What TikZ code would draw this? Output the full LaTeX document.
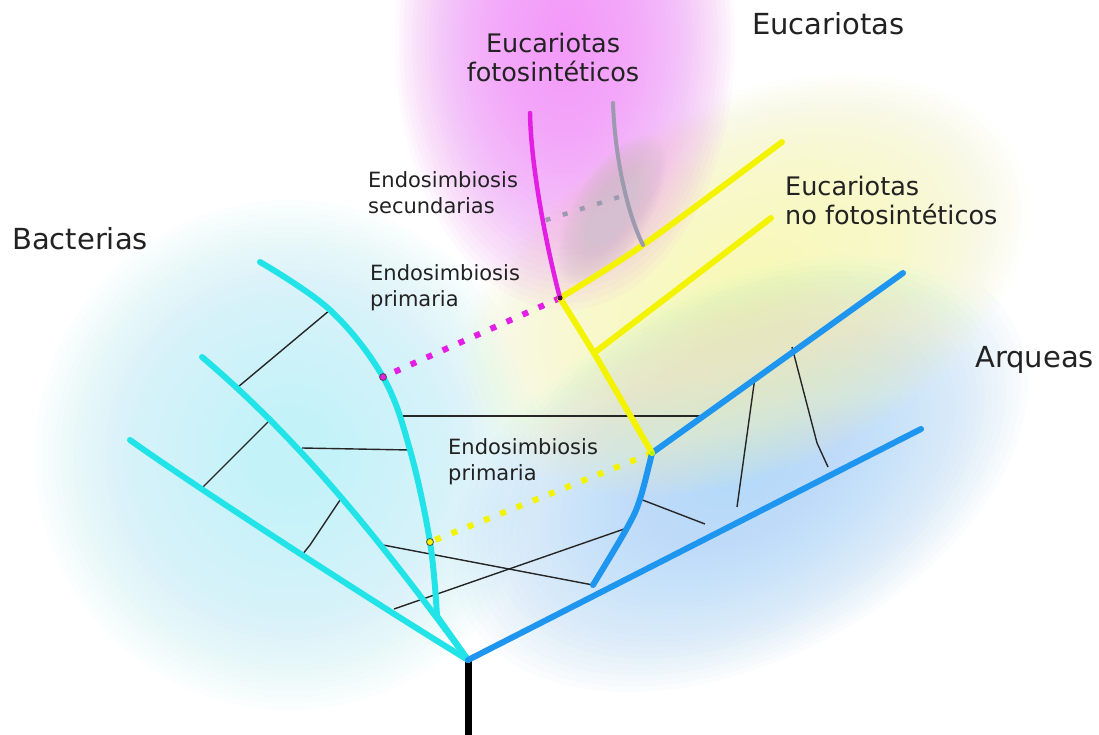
\documentclass[tikz,border=0pt]{standalone}
\usepackage{fontspec}
\setmainfont{DejaVu Sans}
\usepackage{xcolor}
\definecolor{baccol}{HTML}{22E4E8}
\definecolor{arqcol}{HTML}{1E96F0}
\definecolor{eukcol}{HTML}{F4F400}
\definecolor{fotocol}{HTML}{E41FE4}
\definecolor{seccol}{HTML}{9C9AAE}
\definecolor{labelcol}{HTML}{222222}
\definecolor{bacglow}{HTML}{C4F2F9}
\definecolor{arqglow}{HTML}{B5DAF9}
\definecolor{eukglow}{HTML}{F8F8BA}
\definecolor{fotoglow}{HTML}{F396F9}
\definecolor{secglow}{HTML}{D6BFD0}
\usepackage{tikz}

% soft blob made of stacked faint ellipses
\newcommand{\glowblob}[5]{%
  \foreach \k in {1,...,40}
    \fill[#1, fill opacity=0.055, rotate around={#5:#2}]
      #2 ellipse [x radius={\k*#3/40}, y radius={\k*#4/40}];}

\begin{document}
\begin{tikzpicture}[
  x=1pt, y=-1pt,
  bac/.style={line width=6pt, draw=baccol, line cap=round, line join=round},
  arq/.style={line width=6pt, draw=arqcol, line cap=round, line join=round},
  euk/.style={line width=6pt, draw=eukcol, line cap=round, line join=round},
  foto/.style={line width=4.5pt, draw=fotocol, line cap=round},
  sec/.style={line width=4pt, draw=seccol, line cap=round},
  hgt/.style={line width=1.4pt, draw=black!85},
  endo/.style={line width=6pt, dash pattern=on 6pt off 11.5pt},
  jdot/.style={circle, inner sep=0pt, minimum size=7pt, draw=black!70, line width=0.8pt},
  title/.style={font=\fontsize{29}{33}\selectfont, text=labelcol, inner sep=0pt, anchor=base west},
  sub/.style={font=\fontsize{25.5}{29}\selectfont, text=labelcol, inner sep=0pt},
  endolbl/.style={font=\fontsize{21}{26.5}\selectfont, text=labelcol, inner sep=0pt,
                  align=left, anchor=north west},
]
\useasboundingbox[fill=white] (0,0) rectangle (1099,735);

%% Glows behind the groups
\glowblob{bacglow}{(290,455)}{255}{255}{0}
\glowblob{arqglow}{(740,470)}{310}{190}{28}
\glowblob{eukglow}{(745,285)}{300}{185}{25}
\glowblob{fotoglow}{(565,40)}{170}{270}{0}
\glowblob{secglow}{(612,210)}{85}{38}{59}

%% Points of the tree
\coordinate (base)  at (468,735);
\coordinate (root)  at (468,660);
\coordinate (cMerge) at (437,616);
% Bacterias
\coordinate (bTip1) at (260,262);
\coordinate (bTip2) at (202,357);
\coordinate (bTip3) at (130,440);
\coordinate (m1) at (330,310);
\coordinate (m2) at (383,377);
\coordinate (m3) at (398,416);
\coordinate (m4) at (410,450);
\coordinate (m5) at (430,542);
\coordinate (d1) at (238,387);
\coordinate (d2) at (272,418);
\coordinate (d3) at (302,448);
\coordinate (d4) at (342,497);
\coordinate (d5) at (383,545);
\coordinate (l1) at (200,490);
\coordinate (l2) at (302,555);
\coordinate (l2k) at (310,545);
\coordinate (l3) at (394,609);
% Arqueas
\coordinate (a1) at (593,585);
\coordinate (a2) at (705,524);
\coordinate (a3) at (737,507);
\coordinate (a4) at (828,467);
\coordinate (a4k) at (817,443);
\coordinate (aTip1) at (921,429);
\coordinate (i1) at (627,528);
\coordinate (i2) at (640,499);
\coordinate (aJ) at (652,453);
\coordinate (u1) at (703,416);
\coordinate (u2) at (755,377);
\coordinate (u3) at (792,347);
\coordinate (aTip2) at (903,273);
% Eucariotas
\coordinate (y1) at (594,353);
\coordinate (y2) at (560,298);
\coordinate (y3) at (643,245);
\coordinate (eTip1) at (782,142);
\coordinate (eTip2) at (771,218);
\coordinate (fTip) at (530,113);
\coordinate (sTip) at (613,103);
\coordinate (g1) at (619,197);
\coordinate (p1) at (543,221);

%% Transfer lines
\draw[hgt] (m1) -- (d1);
\draw[hgt] (d2) -- (l1);
\draw[hgt] (d3) -- (m4);
\draw[hgt] (m3) -- (u1);
\draw[hgt] (l2) -- (l2k) -- (d4);
\draw[hgt] (d5) -- (a1);
\draw[hgt] (l3) -- (i1);
\draw[hgt] (u2) -- (a3);
\draw[hgt] (u3) -- (a4k) -- (a4);
\draw[hgt] (i2) -- (a2);

%% Endosimbiosis
\draw[endo, fotocol] (y2) -- (m2);
\draw[endo, eukcol] (aJ) -- (m5);
\draw[endo, seccol, line width=4.5pt, dash pattern=on 5pt off 13pt] (g1) -- (p1);

%% Branches
\draw[line width=7pt] (root) -- (base);
\draw[bac] (root) .. controls +(-90,-55) and +(70,50) .. (bTip3);
\draw[bac] (root) .. controls +(-88,-120) and +(98,83) .. (bTip2);
\draw[bac] (root) -- plot[smooth, tension=0.6] coordinates {(cMerge) (m5) (m4) (m2) (m1) (bTip1)};
\draw[arq] (root) -- (aTip1);
\draw[arq] plot[smooth, tension=0.6] coordinates {(a1) (i1) (i2) (aJ)} -- (aTip2);
\draw[euk] (aJ) -- (y1) -- (y2);
\draw[euk] plot[smooth] coordinates {(y2) (y3) (eTip1)};
\draw[euk] (y1) -- (eTip2);
\draw[foto] (y2) .. controls +(-12,-45) and +(1,57) .. (fTip);
\draw[sec] (y3) .. controls +(-15,-30) and +(2,57) .. (sTip);

\node[jdot, fill=fotocol] (dotFoto) at (m2) {};
\node[jdot, fill=eukcol] (dotEuk) at (m5) {};
\node[circle, inner sep=0pt, minimum size=5pt, fill=black!70!fotocol] (dotY2) at (y2) {};
\node[circle, inner sep=0pt, minimum size=4pt, fill=eukcol!70!green] (dotAJ) at (aJ) {};

%% Labels
\node[title] (lblBac) at (12,249) {Bacterias};
\node[title] (lblEuk) at (752,35) {Eucariotas};
\node[title] (lblArq) at (975,367) {Arqueas};
\node[sub, align=center, anchor=north] (lblFoto) at (553,33) {Eucariotas\\fotosintéticos};
\node[sub, align=left, anchor=north west] (lblNoFoto) at (785,176) {Eucariotas\\no fotosintéticos};
\node[endolbl] (lblSec) at (368,171) {Endosimbiosis\\secundarias};
\node[endolbl] (lblPrim1) at (370,264) {Endosimbiosis\\primaria};
\node[endolbl] (lblPrim2) at (448,438) {Endosimbiosis\\primaria};

\end{tikzpicture}
\end{document}
